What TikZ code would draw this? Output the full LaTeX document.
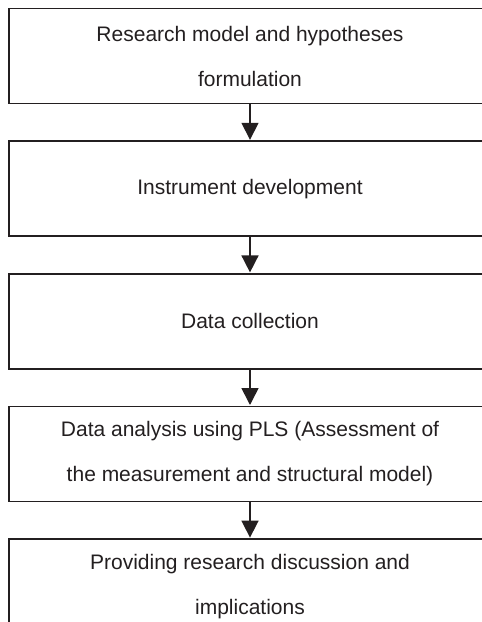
\documentclass[tikz,border=0pt]{standalone}
\usepackage{fontspec}
\setmainfont{Liberation Sans}
\usetikzlibrary{positioning,arrows.meta}
\definecolor{inkgray}{HTML}{231F20}
\tikzset{
	stage/.style={draw=inkgray, line width=1.6pt, text=inkgray, minimum width=482pt, minimum height=95pt, inner sep=0pt, align=center, font=\fontsize{21}{45}\selectfont},
	flow/.style={draw=inkgray, line width=1.6pt, -{Triangle[width=17pt,length=17pt]}, shorten >=0.5pt}
}

\begin{document}
\begin{tikzpicture}[node distance=36pt]
		%%%%% START %%%%%
		
		\useasboundingbox (0,0) rectangle (482pt,-622pt);
		\clip (0,0) rectangle (482pt,-622pt);
		
		\node[stage] (model) at (250pt,-56pt) {Research model and hypotheses\\formulation};
		\node[stage, below=of model] (instrument) {Instrument development};
		\node[stage, below=of instrument] (collection) {Data collection};
		\node[stage, below=of collection] (analysis) {Data analysis using PLS (Assessment of\\the measurement and structural model)};
		\node[stage, below=of analysis] (discussion) {Providing research discussion and\\implications};
		
		\draw[flow] (model) -- (instrument);
		\draw[flow] (instrument) -- (collection);
		\draw[flow] (collection) -- (analysis);
		\draw[flow] (analysis) -- (discussion);
		
		%%%%% END %%%%%
	\end{tikzpicture}
\end{document}
